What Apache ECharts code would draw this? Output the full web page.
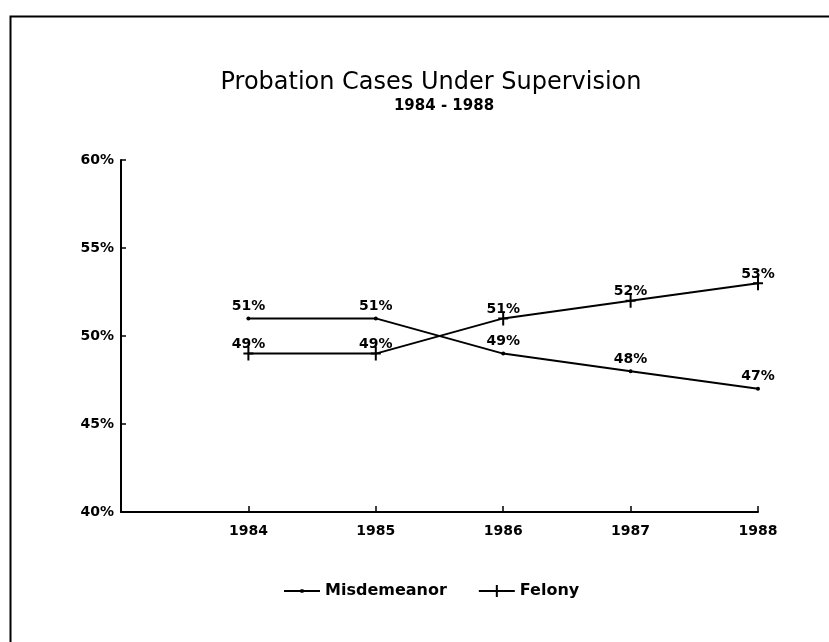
<!DOCTYPE html>
<html>
<head>
<meta charset="utf-8">
<script src="https://cdn.jsdelivr.net/npm/echarts@6/dist/echarts.min.js"></script>
<style>
html,body{margin:0;padding:0;background:#fff;}
#c{width:829px;height:642px;}
</style>
</head>
<body>
<div id="c"></div>
<script>
var years = [1984, 1985, 1986, 1987, 1988];
var misdemeanor = [51, 51, 49, 48, 47];
var felony = [49, 49, 51, 52, 53];
var seriesNames = ['Misdemeanor', 'Felony'];
var titleText = 'Probation Cases Under Supervision';
var subtitleText = '1984 - 1988';

var FONT = '"DejaVu Sans", "Liberation Sans", Arial, sans-serif';
function pairs(vals){ return years.map(function(y,i){ return [y, vals[i]]; }); }
var plusPath = 'path://M4,0h2v14h-2zM0,6h10v2h-10z';
var legendDot = 'path://M0,0.8h36v2h-36zM16.5,0h3v3.6h-3z';
var legendPlus = 'path://M0,5h36v2h-36zM17,0h2v12h-2z';

var chart = echarts.init(document.getElementById('c'), null, {renderer:'canvas'});
chart.setOption({
  backgroundColor: '#fff',
  animation: false,
  graphic: [{
    type: 'rect', left: 8, top: 14,
    shape: {width: 900, height: 700},
    style: {fill: 'none', stroke: '#000', lineWidth: 2}
  }],
  title: [{
    text: titleText,
    left: 426, top: 66, textAlign: 'center',
    textStyle: {fontFamily: FONT, fontSize: 24, fontWeight: 'normal', color: '#000'}
  }, {
    text: subtitleText,
    left: 439, top: 94, textAlign: 'center',
    textStyle: {fontFamily: FONT, fontSize: 15, fontWeight: 'bold', color: '#000'}
  }],
  legend: {
    data: [{name: seriesNames[0], icon: legendDot}, {name: seriesNames[1], icon: legendPlus}],
    left: 279, top: 578,
    itemWidth: 36, itemHeight: 12, itemGap: 32,
    symbolKeepAspect: true,
    itemStyle: {color: '#000'},
    textStyle: {fontFamily: FONT, fontSize: 16, fontWeight: 'bold', color: '#000'}
  },
  grid: {left: 121, right: 71, top: 160, bottom: 130},
  xAxis: {
    type: 'value', min: 1983, max: 1988, interval: 1,
    axisLine: {lineStyle: {color: '#000', width: 2}},
    axisTick: {inside: true, length: 6, lineStyle: {color: '#000', width: 1.5}},
    splitLine: {show: false},
    axisLabel: {
      margin: 12, color: '#000', fontFamily: FONT, fontSize: 14, fontWeight: 'bold',
      formatter: function(v){ return v === 1983 ? '' : String(v); }
    }
  },
  yAxis: {
    type: 'value', min: 40, max: 60, interval: 5,
    axisLine: {show: true, lineStyle: {color: '#000', width: 2}},
    axisTick: {show: true, inside: true, length: 5, lineStyle: {color: '#000', width: 1.5}},
    splitLine: {show: false},
    axisLabel: {margin: 7, color: '#000', fontFamily: FONT, fontSize: 14, fontWeight: 'bold', formatter: '{value}%'}
  },
  series: [{
    name: seriesNames[0], type: 'line', data: pairs(misdemeanor),
    symbol: 'circle', symbolSize: 4,
    lineStyle: {color: '#000', width: 2},
    itemStyle: {color: '#000'},
    label: {show: true, position: 'top', distance: 6, offset: [0, 3], color: '#000', fontFamily: FONT, fontSize: 14, fontWeight: 'bold',
      formatter: function(p){ return p.value[1] + '%'; }}
  }, {
    name: seriesNames[1], type: 'line', data: pairs(felony),
    symbol: plusPath, symbolSize: [10, 14],
    lineStyle: {color: '#000', width: 2},
    itemStyle: {color: '#000'},
    label: {show: true, position: 'top', distance: 3, offset: [0, 8], color: '#000', fontFamily: FONT, fontSize: 14, fontWeight: 'bold',
      formatter: function(p){ return p.value[1] + '%'; }}
  }]
});
</script>
</body>
</html>
